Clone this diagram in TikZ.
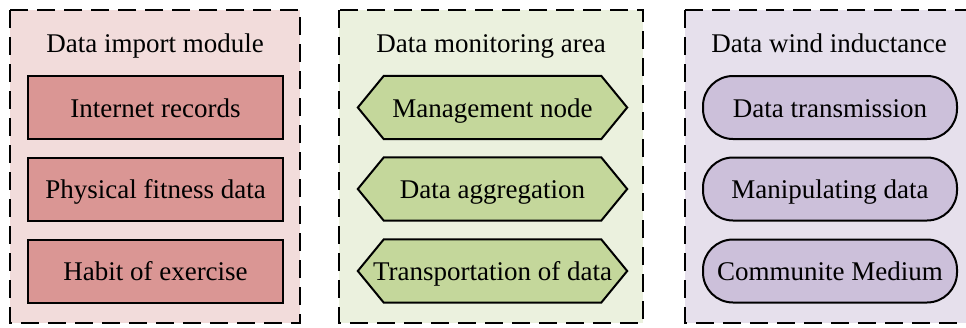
\documentclass[tikz,border=0pt]{standalone}
\usepackage{fontspec}
\setmainfont{Liberation Serif}
\usetikzlibrary{backgrounds}
\definecolor{pinkbg}{RGB}{242,220,219}
\definecolor{pinkbox}{RGB}{218,150,148}
\definecolor{greenbg}{RGB}{235,241,222}
\definecolor{greenbox}{RGB}{196,215,155}
\definecolor{purplebg}{RGB}{230,224,236}
\definecolor{purplebox}{RGB}{204,192,218}
\tikzset{
  panel/.style={draw=black, line width=2.5pt, dash pattern=on 18pt off 9pt},
  label text/.style={font=\fontsize{27}{30}\selectfont, text height=19pt, text depth=0pt},
  title/.style={label text, inner sep=0pt},
  item/.style={label text, minimum height=63pt, inner xsep=0pt, inner ysep=0pt},
  rectbox/.style={item, draw=black, line width=2pt, fill=pinkbox, minimum width=255pt},
  hexbox/.style={item, minimum width=269pt},
  hexshape/.style={draw=black, line width=2pt, fill=greenbox, line join=miter},
  roundbox/.style={item, draw=black, line width=2pt, fill=purplebox, minimum width=254pt, rounded corners=30pt}
}
\begin{document}
\begin{tikzpicture}[x=1pt, y=-1pt]
  \useasboundingbox (0,0) rectangle (966,327);
  \clip (0,0) rectangle (966,327);

  % panel backgrounds and borders
  \begin{scope}[on background layer]
    \fill[pinkbg] (10,10) rectangle (300,323);
    \draw[panel] (10,10) rectangle (300,323);
    \fill[greenbg] (339,10) rectangle (643,323);
    \draw[panel] (339,10) rectangle (643,323);
    \fill[purplebg] (685,10) rectangle (975,323);
    \draw[panel] (685,10) rectangle (975,323);
  \end{scope}

  % panel titles
  \node[title] (t1) at (155,43) {Data import module};
  \node[title] (t2) at (491,43) {Data monitoring area};
  \node[title] (t3) at (829,43) {Data wind inductance};

  % data import module
  \node[rectbox] (a1) at (155.5,107.5) {Internet records};
  \node[rectbox] (a2) at (155.5,189) {Physical fitness data};
  \node[rectbox] (a3) at (155.5,271) {Habit of exercise};

  % data monitoring area: hexagonal items
  \node[hexbox] (b1) at (492.5,107.5) {Management node};
  \node[hexbox] (b2) at (492.5,189) {Data aggregation};
  \node[hexbox] (b3) at (492.5,271) {Transportation of data};
  \begin{scope}[on background layer]
    \foreach \n in {b1,b2,b3}{
      \draw[hexshape] (\n.west) -- ([xshift=26pt]\n.north west) -- ([xshift=-26pt]\n.north east)
        -- (\n.east) -- ([xshift=-26pt]\n.south east) -- ([xshift=26pt]\n.south west) -- cycle;
    }
  \end{scope}

  % data wind inductance: rounded items
  \node[roundbox] (c1) at (830,107.5) {Data transmission};
  \node[roundbox] (c2) at (830,189) {Manipulating data};
  \node[roundbox] (c3) at (830,271) {Communite Medium};
\end{tikzpicture}
\end{document}
